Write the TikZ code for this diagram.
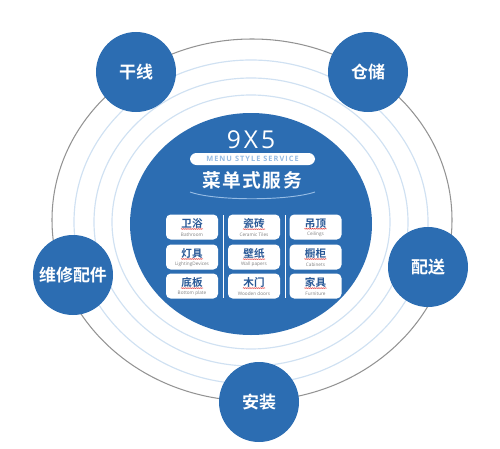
\documentclass[tikz,border=0pt]{standalone}
\usepackage{fontspec}
\setmainfont{Open Sans}
\newfontfamily\cjk{Noto Sans CJK SC}[BoldFont={Noto Sans CJK SC Bold}]
\usetikzlibrary{decorations.pathmorphing}
\definecolor{mainblue}{RGB}{44,109,178}
\definecolor{ringblue}{RGB}{208,225,242}
\definecolor{pillblue}{RGB}{150,188,228}
\definecolor{boxtext}{RGB}{40,88,150}
\tikzset{
  sat/.style={circle, fill=mainblue, minimum size=2.4cm, inner sep=0pt, text=white,
    font=\cjk\bfseries\fontsize{14.5}{15}\selectfont},
  ring/.style={draw=ringblue, line width=1pt},
  menubox/.style={rounded corners=4pt, fill=white, minimum width=1.56cm, minimum height=0.75cm},
  cnlabel/.style={inner sep=0.3pt, text=boxtext, font=\cjk\bfseries\fontsize{9}{9}\selectfont},
  enlabel/.style={inner sep=0pt, text=gray, font=\fontsize{4}{4}\selectfont},
  squiggle/.style={draw=red!85!black, line width=0.35pt, decorate,
    decoration={snake, amplitude=0.3pt, segment length=1.6pt}},
}
\begin{document}
\begin{tikzpicture}[x=0.03cm, y=0.03cm]
    \useasboundingbox (0,0) rectangle (500,-449);
    \draw[gray!85, line width=0.9pt] (252,-220) ellipse [x radius=200, y radius=181];
    \draw[ring] (251,-222) ellipse [x radius=177, y radius=162];
    \draw[ring] (251,-222) ellipse [x radius=157, y radius=144];
    \draw[ring] (251,-222) ellipse [x radius=139, y radius=127];
    \fill[mainblue] (251,-224) ellipse [x radius=121, y radius=111];
    \node[text=white, font=\fontsize{21}{21}\selectfont\addfontfeature{LetterSpace=12}] (title) at (251,-140) {9X5};
    \fill[white, rounded corners=5.5pt] (190,-153) rectangle (315,-165);
    \node[text=pillblue, font=\bfseries\fontsize{6.3}{6.3}\selectfont\addfontfeature{LetterSpace=14}] (motto) at (252.5,-159) {MENU STYLE SERVICE};
    \node[text=white, font=\cjk\bfseries\fontsize{16}{16}\selectfont\addfontfeature{LetterSpace=8}] (menu) at (252,-180) {菜单式服务};
    \draw[pillblue, line width=0.8pt] (190,-192) .. controls (215,-201) and (288,-201) .. (315,-192);
    \draw[white, line width=0.6pt] (223,-215) -- (223,-298) (285,-215) -- (285,-298);
    \foreach \x/\y/\cn/\en/\nm in {192/227/卫浴/Bathroom/a, 254/227/瓷砖/Ceramic Tiles/b, 315.5/227/吊顶/Ceilings/c,
        192/257/灯具/LightingDevices/d, 254/257/壁纸/Wall papers/e, 315.5/257/橱柜/Cabinets/f,
        192/286/底板/Bottom plate/g, 254/286/木门/Wooden doors/h, 315.5/286/家具/Furniture/i}{
      \node[menubox] (box\nm) at (\x,-\y) {};
      \node[cnlabel] (cn\nm) at (\x,-\y+3.5) {\cn};
      \node[enlabel] (en\nm) at (\x,-\y-7.5) {\en};
      \draw[squiggle] (cn\nm.south west) -- (cn\nm.south east);
    }
    \node[sat] (trunk) at (136,-72) {干线};
    \node[sat] (storage) at (368,-72) {仓储};
    \node[sat] (repair) at (73,-275) {维修配件};
    \node[sat] (delivery) at (428,-267) {配送};
    \node[sat] (install) at (259,-402) {安装};
\end{tikzpicture}
\end{document}
